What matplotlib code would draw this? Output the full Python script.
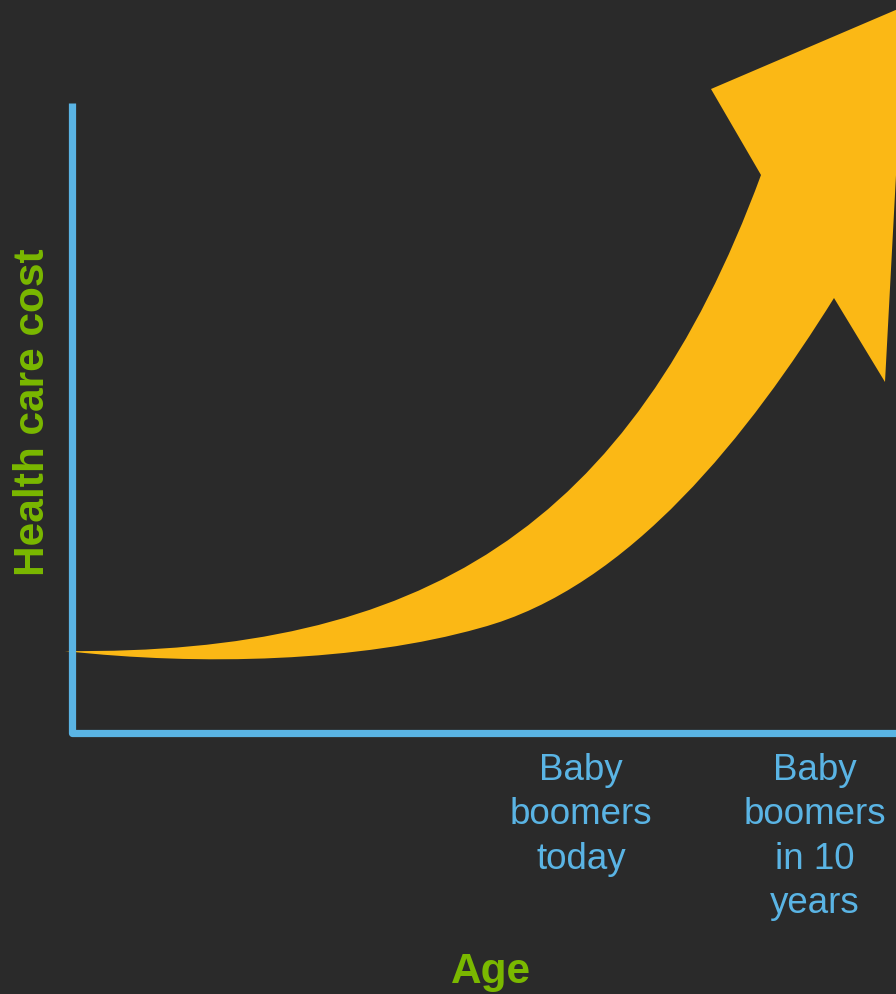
import matplotlib
matplotlib.use("Agg")
import matplotlib.pyplot as plt
from matplotlib.path import Path
from matplotlib.patches import PathPatch

# canvas in pixel units (y grows downward, like the source slide)
W, H = 896, 994
bg = "#2a2a2a"
blue = "#5ab4e4"
orange = "#fbb815"
green = "#7ab800"

# arrow outline: tail, upper bezier, head, lower bezier (two pieces)
tail = (65, 651)
upper_ctrl = [(420, 655), (630, 530), (761, 175)]
head = [(711, 89), (905, 6), (885, 382), (834, 298)]
lower_ctrl_a = [(751, 431), (630, 588), (480, 628)]
lower_ctrl_b = [(360, 662), (200, 666), (65, 651)]

# axes corner and ends
axis_x = [72, 72, 900]
axis_y = [103, 733, 733]

y_label = "Health care cost"
x_label = "Age"
tick_labels = ["Baby\nboomers\ntoday", "Baby\nboomers\nin 10\nyears"]
tick_x = [581, 815]

plt.rcParams['font.family'] = ['Liberation Sans', 'DejaVu Sans']
fig = plt.figure(figsize=(W / 100, H / 100), dpi=100, facecolor=bg)
ax = fig.add_axes([0, 0, 1, 1])
ax.set_facecolor(bg)
ax.set_xlim(0, W)
ax.set_ylim(H, 0)
ax.axis('off')

verts = [tail] + upper_ctrl + head + lower_ctrl_a + lower_ctrl_b
codes = ([Path.MOVETO] + [Path.CURVE4] * 3 + [Path.LINETO] * 4
         + [Path.CURVE4] * 6)
ax.add_patch(PathPatch(Path(verts, codes), facecolor=orange, edgecolor='none', zorder=2))

ax.plot(axis_x, axis_y, color=blue, lw=5.2, solid_joinstyle='round',
        solid_capstyle='butt', zorder=3)

ax.text(33, 412, y_label, rotation=90, ha='center', va='center',
        fontsize=30.5, fontweight='bold', color=green)
ax.text(491, 983, x_label, ha='center', va='baseline',
        fontsize=30.5, fontweight='bold', color=green)
for x, lab in zip(tick_x, tick_labels):
    ax.text(x, 753, lab, ha='center', va='top', fontsize=26.5,
            color=blue, linespacing=1.345)

fig.savefig("out.png", dpi=100, facecolor=bg)
